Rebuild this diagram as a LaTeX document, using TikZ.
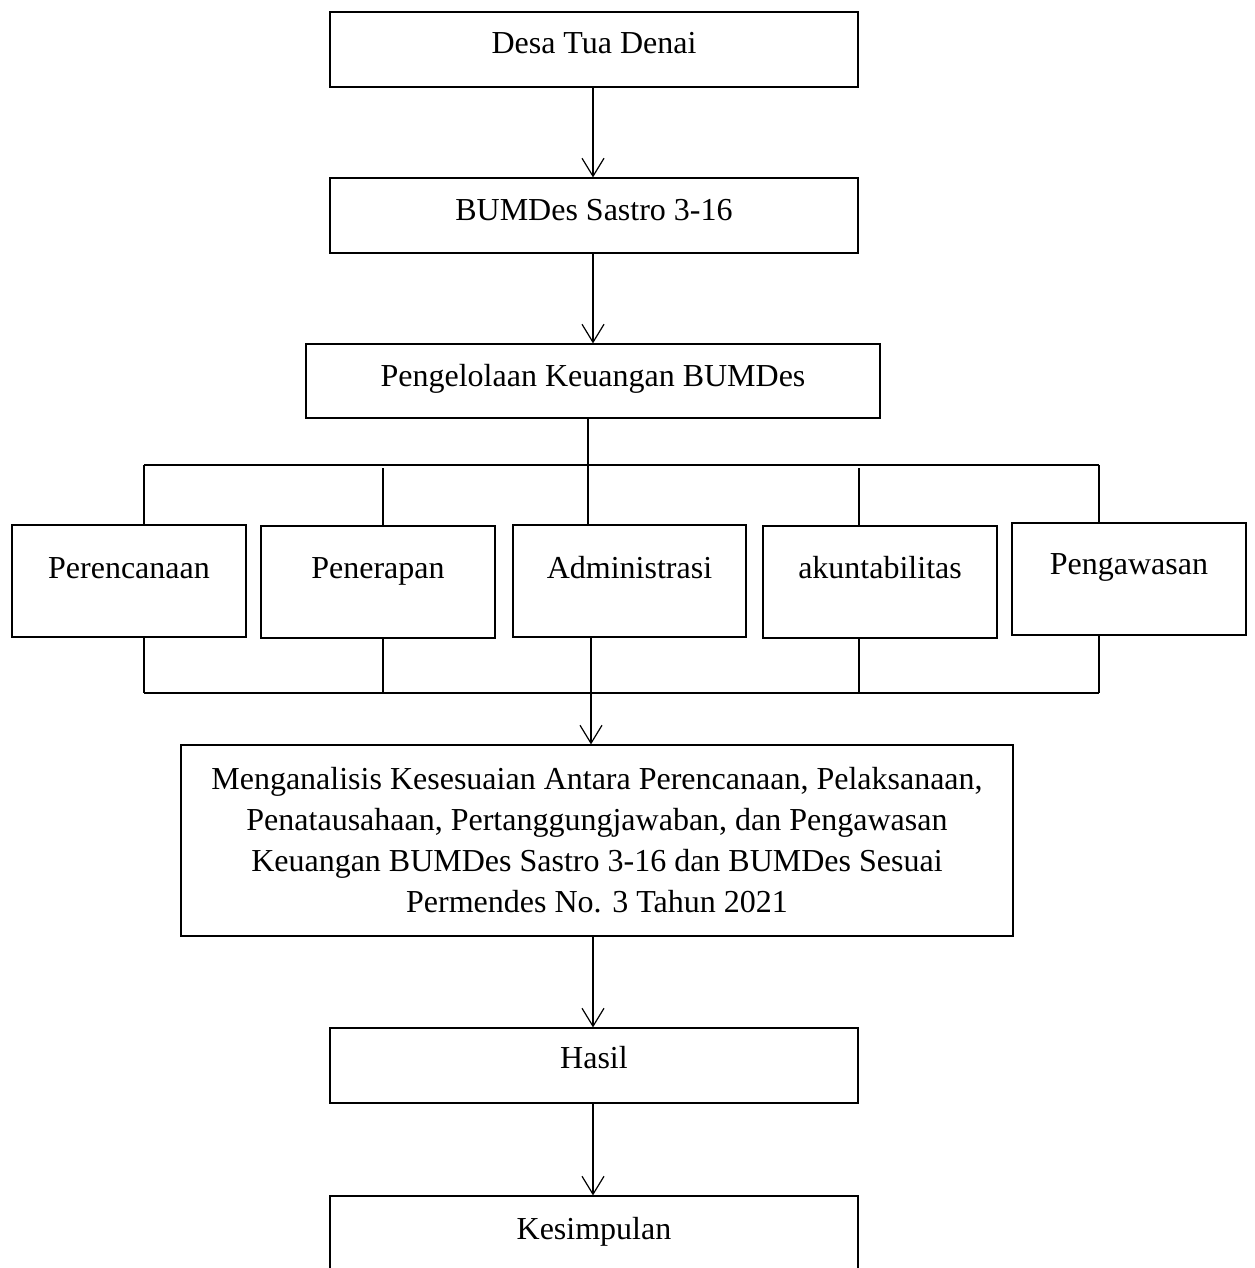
\documentclass[tikz,border=0pt]{standalone}
\usepackage{fontspec}
\setmainfont{Liberation Serif}
\usetikzlibrary{arrows.meta}
\tikzset{
  ln/.style={line width=1.2pt},
  arr/.style={ln, -{Straight Barb[length=18pt, width=22pt, line width=1.2pt]}},
  fbox/.style={draw, ln, inner sep=0pt, font=\fontsize{32}{41}\selectfont}
}
\begin{document}
\begin{tikzpicture}[x=1pt, y=-1pt]
\path[use as bounding box] (0,0) rectangle (1254,1268);
\clip (0,0) rectangle (1254,1268);
\fill[white] (0,0) rectangle (1254,1268);
% boxes
\node[fbox, minimum width=528pt, text height=42pt, text depth=33pt] (b1) at (594,49.5) {Desa Tua Denai};
\node[fbox, minimum width=528pt, text height=42pt, text depth=33pt] (b2) at (594,215.5) {BUMDes Sastro 3-16};
\node[fbox, minimum width=574pt, text height=42pt, text depth=32pt] (b3) at (593,381) {Pengelolaan Keuangan BUMDes};
\node[fbox, minimum width=234pt, text height=53pt, text depth=59pt] (p1) at (129,581) {Perencanaan};
\node[fbox, minimum width=234pt, text height=52pt, text depth=60pt] (p2) at (378,582) {Penerapan};
\node[fbox, minimum width=233pt, text height=53pt, text depth=59pt] (p3) at (629.5,581) {Administrasi};
\node[fbox, minimum width=234pt, text height=52pt, text depth=60pt] (p4) at (880,582) {akuntabilitas};
\node[fbox, minimum width=234pt, text height=51pt, text depth=61pt] (p5) at (1129,579) {Pengawasan};
\node[fbox, minimum width=832pt, minimum height=191pt, align=center] (big) at (597,840.5)
  {Menganalisis Kesesuaian Antara Perencanaan, Pelaksanaan,\\
   Penatausahaan, Pertanggungjawaban, dan Pengawasan\\
   Keuangan BUMDes Sastro 3-16 dan BUMDes Sesuai\\
   Permendes No. 3 Tahun 2021};
\node[fbox, minimum width=528pt, text height=40pt, text depth=35pt] (hs) at (594,1065.5) {Hasil};
\node[fbox, minimum width=528pt, text height=43pt, text depth=32pt] (ks) at (594,1233.5) {Kesimpulan};
% bus coordinates
\coordinate (t1) at (144,465);
\coordinate (t2) at (383,468);
\coordinate (t3) at (588,465);
\coordinate (t4) at (859,468);
\coordinate (t5) at (1099,465);
\coordinate (u1) at (144,693);
\coordinate (u2) at (383,693);
\coordinate (u3) at (591,693);
\coordinate (u4) at (859,693);
\coordinate (u5) at (1099,693);
% arrows
\draw[arr] (b1.south -| 593,0) -- (b2.north -| 593,0);
\draw[arr] (b2.south -| 593,0) -- (b3.north -| 593,0);
% top bus
\draw[ln] (t1) -- (t5);
\draw[ln] (b3.south -| t3) -- (p3.north -| t3);
\draw[ln] (t1) -- (p1.north -| t1);
\draw[ln] (t2) -- (p2.north -| t2);
\draw[ln] (t4) -- (p4.north -| t4);
\draw[ln] (t5) -- (p5.north -| t5);
% bottom bus
\draw[ln] (u1) -- (u5);
\draw[ln] (p1.south -| u1) -- (u1);
\draw[ln] (p2.south -| u2) -- (u2);
\draw[ln] (p4.south -| u4) -- (u4);
\draw[ln] (p5.south -| u5) -- (u5);
\draw[arr] (p3.south -| u3) -- (big.north -| u3);
\draw[arr] (big.south -| 593,0) -- (hs.north -| 593,0);
\draw[arr] (hs.south -| 593,0) -- (ks.north -| 593,0);
\end{tikzpicture}
\end{document}
